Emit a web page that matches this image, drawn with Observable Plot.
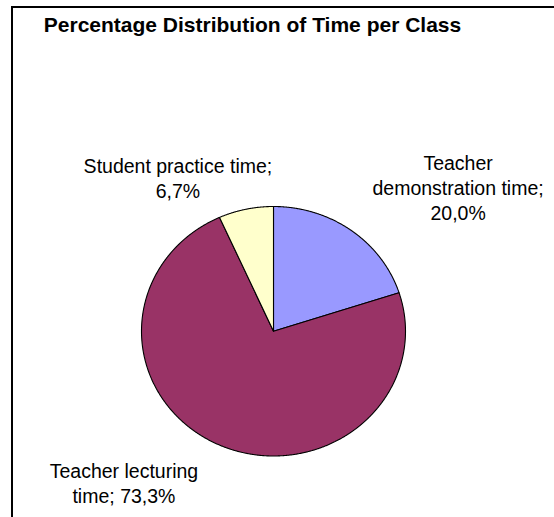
<!DOCTYPE html>
<html>
<head>
<meta charset="utf-8">
<script src="https://cdn.jsdelivr.net/npm/d3@7"></script>
<script src="https://cdn.jsdelivr.net/npm/@observablehq/plot@0.6"></script>
<style>
  html, body { margin: 0; padding: 0; background: #fff; overflow: hidden; }
  #wrap { position: relative; width: 554px; height: 517px; overflow: hidden; }
  #frame { position: absolute; left: 11px; top: 6px; width: 700px; height: 700px;
           border-top: 2px solid #000; border-left: 2px solid #000; box-sizing: border-box; }
  #title { position: absolute; left: 0; width: 505px; top: 13.5px; text-align: center;
           font: bold 21px "Liberation Sans", Arial, sans-serif; line-height: 1; color: #000; white-space: nowrap; }
  #chart { position: absolute; left: 0; top: 0; }
</style>
</head>
<body>
<div id="wrap">
  <div id="frame"></div>
  <div id="chart"></div>
  <div id="title">Percentage Distribution of Time per Class</div>
</div>
<script>
// ---- data ----
const categories = ["Teacher demonstration time", "Teacher lecturing time", "Student practice time"];
const values = [20.0, 73.3, 6.7];
const valueLabels = ["20,0%", "73,3%", "6,7%"];
const labelLines = [
  ["Teacher", "demonstration time;", "20,0%"],
  ["Teacher lecturing", "time; 73,3%"],
  ["Student practice time;", "6,7%"]
];
const colors = ["#9999FF", "#993366", "#FFFFCC"];

// ---- layout (styling only) ----
const labelOffsets = [[107, -43], [-96, 37], [-68, -32]];

const total = d3.sum(values);
const slices = [];
const labels = [];
let start = 0;
categories.forEach((c, i) => {
  const a0 = start;
  const a1 = start + values[i] / total * 2 * Math.PI;
  start = a1;
  const pts = [{cat: c, color: colors[i], x: 0, y: 0}];
  const n = Math.max(2, Math.ceil((a1 - a0) / (Math.PI / 720)));
  for (let k = 0; k <= n; k++) {
    const a = a0 + (a1 - a0) * k / n;
    pts.push({cat: c, color: colors[i], x: Math.sin(a), y: Math.cos(a)});
  }
  pts.push({cat: c, color: colors[i], x: 0, y: 0});
  slices.push(...pts);
  const am = (a0 + a1) / 2;
  labels.push({cat: c, text: labelLines[i].join("\n"), x: Math.sin(am), y: Math.cos(am),
               dx: labelOffsets[i][0], dy: labelOffsets[i][1]});
});

const chart = Plot.plot({
  width: 554,
  height: 517,
  margin: 0,
  x: {domain: [-1, 1], range: [141, 405], axis: null},
  y: {domain: [-1, 1], range: [455.5, 206], axis: null},
  style: {background: "transparent", fontFamily: "'Liberation Sans', Arial, sans-serif"},
  marks: [
    Plot.line(slices, {x: "x", y: "y", z: "cat", fill: "color", stroke: "#000",
                       strokeWidth: 1.1, strokeLinejoin: "round", curve: "linear"}),
    ...labels.map(l => Plot.text([l], {x: "x", y: "y", text: "text", dx: l.dx, dy: l.dy,
                       fontSize: 19.5, lineHeight: 1.27, fill: "#000", textAnchor: "middle"}))
  ]
});
document.getElementById("chart").appendChild(chart);
</script>
</body>
</html>
